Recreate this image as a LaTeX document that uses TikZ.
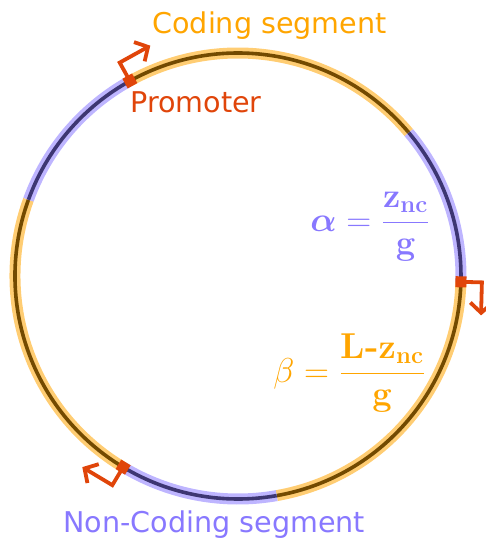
\documentclass[tikz,border=0pt]{standalone}
\usepackage{amsmath,amssymb,bm}
\usepackage[no-math]{fontspec}
\usepackage{tikz}
\usetikzlibrary{arrows.meta}
\newfontfamily\labelfont{DejaVu Sans}
\definecolor{coding}{HTML}{FFA500}
\definecolor{noncoding}{HTML}{8878FF}
\definecolor{promoter}{HTML}{E0450A}

\begin{document}
\begin{tikzpicture}[
    x=0.5pt, y=0.5pt,
    band/.style={line width=5.5pt, draw=#1!55},
    core/.style={line width=1.8pt, draw=#1!45!black},
    promsq/.style={fill=promoter, inner sep=0pt, minimum size=5.5pt},
    promarr/.style={draw=promoter, line width=1.9pt, -{Straight Barb[length=5pt,width=11pt]}},
    label/.style={font=\labelfont\fontsize{14.3}{17}\selectfont, inner sep=0pt},
    formula/.style={font=\fontsize{18}{21}\selectfont, inner sep=0pt}
  ]
    \useasboundingbox (-238,-262) rectangle (248,276);
    \foreach \a/\b/\c in {119/40/coding, 40/-1.5/noncoding, -1.5/-80/coding,
                          -80/-121/noncoding, -121/-200/coding, 160/119/noncoding} {
      \draw[band=\c] (\a:223) arc[start angle=\a, end angle=\b, radius=223];
      \draw[core=\c] (\a:223) arc[start angle=\a, end angle=\b, radius=223];
    }
    \coordinate (p1) at (119:223);
    \coordinate (p2) at (-1.5:223);
    \coordinate (p3) at (-121:223);
    \draw[promarr] (p1) -- (119:244) -- ++(29:35);
    \draw[promarr] (p2) -- (-1.5:244) -- ++(-91.5:33);
    \draw[promarr] (p3) -- (-121:244) -- ++(149:35);
    \node[promsq, rotate=119] (sq1) at (p1) {};
    \node[promsq, rotate=-1.5] (sq2) at (p2) {};
    \node[promsq, rotate=-121] (sq3) at (p3) {};
    \node[label, text=coding, anchor=base west] (codlabel) at (-86,243) {Coding segment};
    \node[label, text=promoter, anchor=base west] (promlabel) at (-108,164) {Promoter};
    \node[label, text=noncoding, anchor=base west] (nclabel) at (-175,-256) {Non-Coding segment};
    \node[formula, text=noncoding, anchor=base west] (alpha) at (72,45)
      {$\bm{\alpha} = \dfrac{\mathbf{z}_{\mathbf{nc}}}{\mathbf{g}}$};
    \node[formula, text=coding, anchor=base west] (beta) at (35,-106)
      {$\beta = \dfrac{\text{\bfseries L-}\mathbf{z}_{\mathbf{nc}}}{\mathbf{g}}$};
\end{tikzpicture}
\end{document}
